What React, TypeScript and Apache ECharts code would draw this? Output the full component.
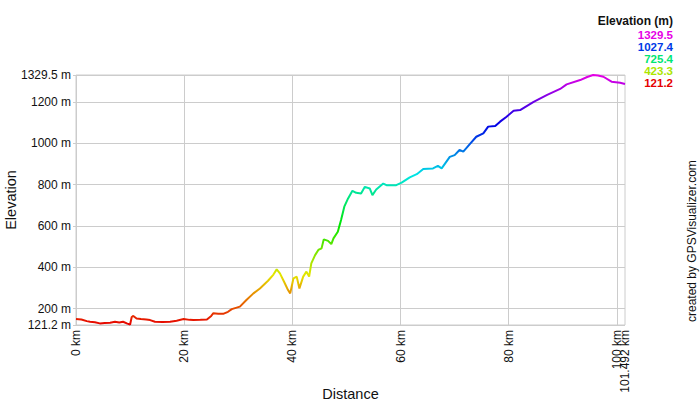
import React, { useEffect, useRef } from "react";
import * as echarts from "echarts";

const distanceKm = [
  0, 1.0, 2.0, 2.6, 3.5, 4.4, 5.3, 6.3, 7.2, 8.0, 8.7, 9.5, 10.0, 10.3, 10.6, 11.2, 12.0, 13.0, 13.7, 14.6,
  16.0, 17.4, 18.6, 19.9, 21.0, 21.7, 23.0, 24.2, 25.0, 25.4, 26.3, 27.2, 28.1, 28.8, 30.3, 31.5, 32.8, 34.0,
  35.5, 36.5, 37.1, 37.7, 38.6, 39.2, 39.6, 40.2, 40.8, 41.3, 42.0, 42.6, 43.1, 43.5, 44.2, 44.8, 45.4, 45.8,
  46.6, 47.2, 47.6, 48.4, 49.0, 49.6, 50.3, 51.1, 51.8, 52.7, 53.4, 54.3, 54.8, 55.5, 56.8, 57.4, 59.2, 60.2,
  61.7, 63.0, 64.2, 66.0, 66.9, 67.6, 69.1, 70.0, 70.9, 71.6, 72.8, 74.0, 75.3, 76.2, 77.5, 78.4, 79.6, 80.9,
  82.1, 84.6, 87.1, 89.5, 90.7, 93.2, 94.5, 95.6, 96.5, 97.5, 99.0, 100.6, 101.492,
];
const elevationM = [
  150, 148, 140, 137, 134, 129, 131, 132, 137, 133, 137, 128, 124, 160, 165, 153, 150, 148, 145, 137,
  136, 137, 142, 150, 146, 145, 146, 148, 165, 178, 176, 175, 185, 198, 210, 242, 274, 298,
  335, 365, 390, 371, 323, 290, 274, 347, 355, 298, 355, 379, 355, 419, 459, 484, 492, 535,
  528, 512, 540, 572, 629, 693, 733, 770, 760, 757, 789, 781, 749, 776, 805, 797, 797, 809,
  835, 850, 875, 878, 890, 878, 934, 942, 967, 959, 995, 1031, 1047, 1080, 1083, 1104, 1128, 1157,
  1160, 1200, 1233, 1262, 1284, 1305, 1320, 1329.5, 1327, 1321, 1297, 1292, 1286,
];
const elevMin = 121.2;
const elevMax = 1329.5;
const distMax = 101.492;
const yTickValues = [121.2, 200, 400, 600, 800, 1000, 1200, 1329.5];
const xTickValues = [0, 20, 40, 60, 80, 100];
const xEndTickValues = [101.492];
const legendValues = [1329.5, 1027.4, 725.4, 423.3, 121.2];

function hueColor(v: number): string {
  const f = Math.max(0, Math.min(1, (v - elevMin) / (elevMax - elevMin)));
  const h = f * 300;
  return `hsl(${h.toFixed(1)}, 100%, 45%)`;
}

const FONT = "'Liberation Sans', Arial, sans-serif";

export default function App() {
  const ref = useRef<HTMLDivElement>(null);
  useEffect(() => {
    document.body.style.margin = "0";
    if (!ref.current) return;
    const chart = echarts.init(ref.current, null, { renderer: "svg" });
    const data = distanceKm.map((d, i) => [d, elevationM[i]]);
    const gradientColors: string[] = [];
    for (let i = 0; i <= 10; i++) {
      gradientColors.push(hueColor(elevMin + (i / 10) * (elevMax - elevMin)));
    }
    const xLabelBase = {
      rotate: 90,
      fontSize: 12,
      lineHeight: 10,
      color: "#111",
      margin: 5,
      hideOverlap: false,
      fontFamily: FONT,
      formatter: (v: number) => `${v} km`,
    };
    chart.setOption({
      animation: false,
      textStyle: { fontFamily: FONT },
      grid: {
        left: 76,
        top: 75,
        width: 549,
        height: 250,
        show: true,
        borderColor: "#cccccc",
        borderWidth: 1,
        containLabel: false,
        outerBoundsMode: "none",
      },
      visualMap: {
        type: "continuous",
        show: false,
        dimension: 1,
        seriesIndex: 0,
        min: elevMin,
        max: elevMax,
        inRange: { color: gradientColors },
      },
      xAxis: [
        {
          type: "value",
          min: 0,
          max: distMax,
          position: "bottom",
          name: "Distance",
          nameLocation: "middle",
          nameGap: 61,
          nameMoveOverlap: false,
          nameTextStyle: { fontSize: 14.5, color: "#111", fontFamily: FONT },
          axisLine: { show: false },
          axisTick: { show: false, customValues: xTickValues },
          axisLabel: { ...xLabelBase, customValues: xTickValues, padding: [0, 0, 2, 0] },
          splitLine: { show: true, lineStyle: { color: "#cccccc", width: 1 } },
        },
        {
          type: "value",
          min: 0,
          max: distMax,
          position: "bottom",
          offset: 0,
          axisLine: { show: false },
          axisTick: { show: false, customValues: xEndTickValues },
          axisLabel: { ...xLabelBase, customValues: xEndTickValues, padding: [2, 0, 0, 0] },
          splitLine: { show: false },
        },
      ],
      yAxis: {
        type: "value",
        min: elevMin,
        max: elevMax,
        name: "Elevation",
        nameLocation: "middle",
        nameGap: 58,
        nameMoveOverlap: false,
        nameTextStyle: { fontSize: 14.5, color: "#111", fontFamily: FONT },
        axisLine: { show: false },
        axisTick: { show: true, length: 3, customValues: yTickValues, lineStyle: { color: "#cccccc" } },
        axisLabel: {
          customValues: yTickValues,
          fontSize: 12,
          color: "#111",
          margin: 5,
          hideOverlap: false,
          showMaxLabel: true,
          showMinLabel: true,
          fontFamily: FONT,
          formatter: (v: number) => `${v} m`,
        },
        splitLine: { show: true, lineStyle: { color: "#cccccc", width: 1 } },
      },
      series: [
        {
          type: "line",
          xAxisIndex: 0,
          data,
          showSymbol: false,
          symbol: "none",
          lineStyle: { width: 2 },
        },
      ],
      graphic: [
        {
          type: "text",
          right: 27,
          top: 15,
          style: { text: "Elevation (m)", font: `bold 12px ${FONT}`, lineHeight: 12, fill: "#111" },
        },
        ...legendValues.map((v, i) => ({
          type: "text",
          right: 27,
          top: 29 + i * 11.9,
          style: { text: v.toFixed(1), font: `bold 11.5px ${FONT}`, lineHeight: 11.5, fill: hueColor(v) },
        })),
        {
          type: "text",
          x: 692,
          y: 322,
          rotation: Math.PI / 2,
          style: {
            text: "created by GPSVisualizer.com",
            font: `12px ${FONT}`,
            fill: "#111",
            align: "left",
            verticalAlign: "middle",
          },
        },
      ],
    });
    return () => chart.dispose();
  }, []);
  return <div ref={ref} style={{ width: 700, height: 400 }} />;
}
